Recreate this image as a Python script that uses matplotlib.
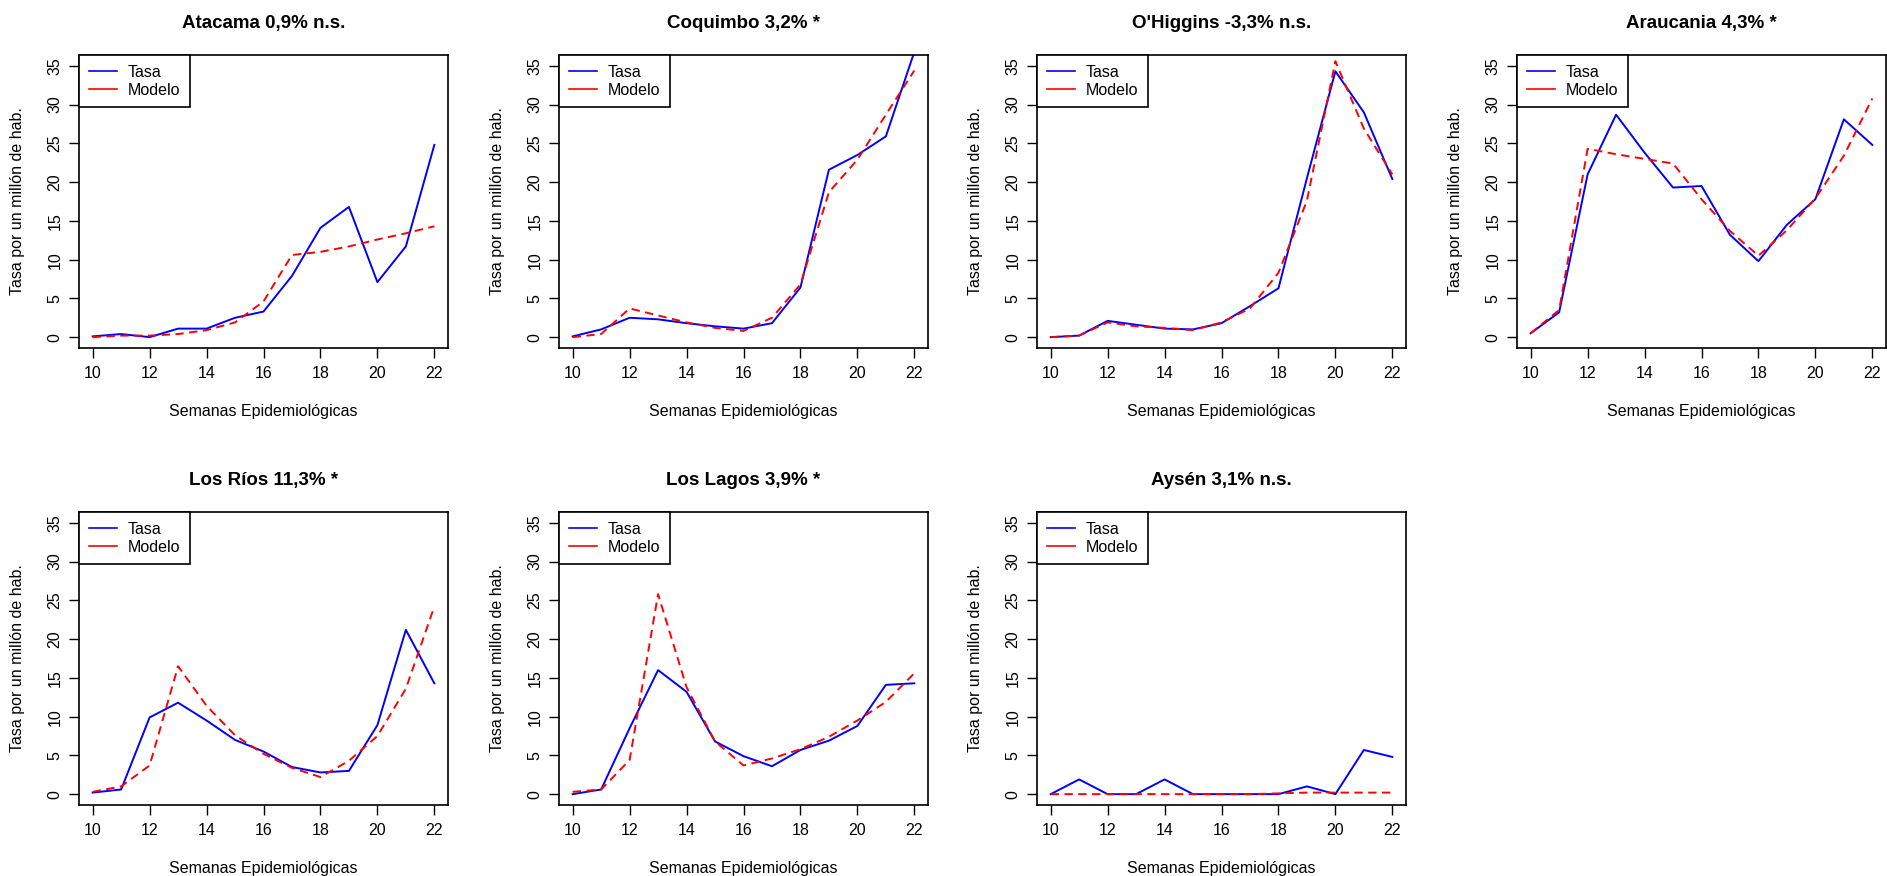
import numpy as np
import matplotlib.pyplot as plt
from matplotlib.lines import Line2D

plt.rcParams['font.family'] = ['Liberation Sans', 'DejaVu Sans']

semanas = [10, 11, 12, 13, 14, 15, 16, 17, 18, 19, 20, 21, 22]

titulos = ['Atacama 0,9% n.s.', 'Coquimbo 3,2% *', "O'Higgins -3,3% n.s.",
           'Araucania 4,3% *', 'Los Ríos 11,3% *', 'Los Lagos 3,9% *',
           'Aysén 3,1% n.s.']

# tasa observada por region
tasa_atacama = [0.1, 0.4, 0.0, 1.1, 1.1, 2.5, 3.3, 7.9, 14.1, 16.8, 7.1, 11.7, 24.8]
tasa_coquimbo = [0.1, 1.0, 2.5, 2.3, 1.8, 1.4, 1.1, 1.8, 6.4, 21.6, 23.5, 25.9, 36.8]
tasa_ohiggins = [0.0, 0.2, 2.1, 1.6, 1.1, 1.0, 1.8, 4.0, 6.3, 20.5, 34.3, 29.0, 20.4]
tasa_araucania = [0.5, 3.2, 21.0, 28.7, 23.8, 19.3, 19.5, 13.2, 9.8, 14.5, 17.8, 28.1, 24.8]
tasa_losrios = [0.2, 0.6, 9.9, 11.8, 9.5, 7.0, 5.5, 3.5, 2.8, 3.0, 8.9, 21.2, 14.3]
tasa_loslagos = [0.0, 0.6, 8.5, 16.0, 13.2, 6.8, 4.9, 3.6, 5.7, 6.9, 8.8, 14.1, 14.3]
tasa_aysen = [0.0, 1.9, 0.0, 0.0, 1.9, 0.0, 0.0, 0.0, 0.0, 1.0, 0.0, 5.7, 4.8]

# modelo ajustado por region
mod_atacama = [0.0, 0.2, 0.2, 0.4, 0.9, 1.9, 4.6, 10.6, 11.0, 11.7, 12.6, 13.4, 14.3]
mod_coquimbo = [0.0, 0.4, 3.7, 2.8, 1.9, 1.2, 0.8, 2.5, 6.8, 18.7, 22.9, 28.7, 34.4]
mod_ohiggins = [0.0, 0.2, 1.9, 1.4, 1.2, 0.9, 1.9, 3.7, 8.3, 17.6, 35.6, 26.9, 21.0]
mod_araucania = [0.5, 3.5, 24.3, 23.6, 23.0, 22.4, 17.8, 13.7, 10.5, 13.8, 17.9, 23.4, 30.8]
mod_losrios = [0.3, 1.0, 3.7, 16.5, 11.4, 7.6, 5.2, 3.4, 2.2, 4.3, 7.5, 13.6, 24.2]
mod_loslagos = [0.3, 0.6, 4.4, 25.8, 13.8, 6.8, 3.7, 4.6, 5.8, 7.4, 9.5, 11.9, 15.6]
mod_aysen = [0.0, 0.0, 0.0, 0.0, 0.0, 0.0, 0.0, 0.0, 0.1, 0.2, 0.2, 0.2, 0.2]

tasas = [tasa_atacama, tasa_coquimbo, tasa_ohiggins, tasa_araucania,
         tasa_losrios, tasa_loslagos, tasa_aysen]
modelos = [mod_atacama, mod_coquimbo, mod_ohiggins, mod_araucania,
           mod_losrios, mod_loslagos, mod_aysen]

W, H = 1887, 876
fig = plt.figure(figsize=(W/100, H/100), dpi=100)

lefts = [79, 559, 1037, 1517]
tops = [55, 512]
bw, bh = 369, 293

for i in range(7):
    fila, col = divmod(i, 4)
    x0 = lefts[col]
    y0 = tops[fila]
    ax = fig.add_axes([x0/W, 1 - (y0+bh)/H, bw/W, bh/H])

    ax.plot(semanas, tasas[i], color='blue', lw=1.4)
    ax.plot(semanas, modelos[i], color='red', lw=1.4, dashes=(4.3, 2.8))

    ax.set_xlim(9.52, 22.48)
    ax.set_ylim(-1.4, 36.4)
    ax.set_xticks(range(10, 23, 2))
    ax.set_yticks(range(0, 36, 5))
    ax.tick_params(direction='out', length=7, width=1, labelsize=11.5, colors='black')
    ax.tick_params(axis='y', labelrotation=90, pad=5)
    ax.tick_params(axis='x', pad=6)
    for lab in ax.get_yticklabels():
        lab.set_va('center')
    for s in ax.spines.values():
        s.set_linewidth(1.2)

    ax.set_title(titulos[i], fontsize=13.5, fontweight='bold', pad=19.5)
    ax.set_xlabel('Semanas Epidemiológicas', fontsize=11.5)
    ax.set_ylabel('Tasa por un millón de hab.', fontsize=11.5)
    ax.xaxis.set_label_coords(0.5, -0.19)
    ax.yaxis.set_label_coords(-0.145, 0.5)

    handles = [Line2D([], [], color='blue', lw=1.2), Line2D([], [], color='red', lw=1.2)]
    leg = ax.legend(handles, ['Tasa', 'Modelo'], loc='upper left', bbox_to_anchor=(0, 1),
                    borderaxespad=0, fancybox=False, edgecolor='black', framealpha=1,
                    handlelength=1.75, handletextpad=0.7, labelspacing=0.2,
                    borderpad=0.6, fontsize=11.5)
    leg.get_frame().set_linewidth(1.2)

fig.savefig('out.png', dpi=100, facecolor='white')
